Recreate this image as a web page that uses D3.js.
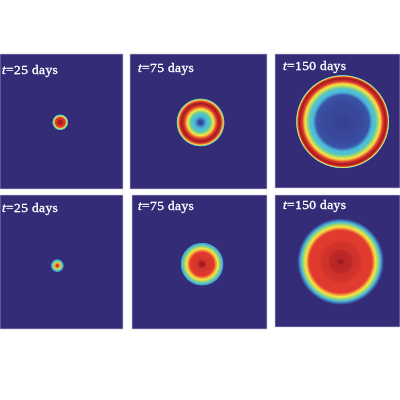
<!DOCTYPE html>
<html><head><meta charset="utf-8">
<script src="https://cdn.jsdelivr.net/npm/d3@7"></script>
<style>html,body{margin:0;padding:0;background:#fff}svg{display:block}
text{font-family:"Liberation Serif",serif;fill:#fff;stroke:#fff;stroke-width:.3px;font-size:13.5px;letter-spacing:.35px}</style>
</head><body><svg id="c" width="400" height="400"></svg>
<script>
// data: one profile per panel; radius as a fraction of the outer radius
const labels = ["25","75","150","25","75","150"];
const centerX = [0.49,0.515,0.541,0.466,0.519,0.525];
const centerY = [0.506,0.507,0.505,0.527,0.516,0.505];
const outerRadius = [0.060,0.180,0.350,0.050,0.162,0.328];
const radii1 = [0,0.25,0.4,0.62,0.72,0.8,0.88,0.95,1];
const values1 = [0.98,0.98,0.9,0.875,0.7,0.55,0.38,0.25,0];
const radii2 = [0,0.1,0.18,0.28,0.4,0.47,0.54,0.6,0.67,0.78,0.86,0.93,0.97,1];
const values2 = [0.06,0.1,0.2,0.26,0.38,0.52,0.63,0.76,0.88,1,0.88,0.66,0.33,0];
const radii3 = [0,0.4,0.56,0.6,0.64,0.7,0.75,0.8,0.83,0.86,0.92,0.955,0.975,0.988,1];
const values3 = [0.06,0.09,0.12,0.19,0.27,0.3,0.5,0.63,0.76,0.875,1,0.875,0.63,0.3,0];
const radii4 = [0,0.2,0.38,0.55,0.72,0.88,1];
const values4 = [0.9,0.88,0.72,0.52,0.33,0.22,0];
const radii5 = [0,0.12,0.2,0.55,0.64,0.72,0.8,0.9,0.97,1];
const values5 = [1,0.98,0.9,0.875,0.75,0.63,0.5,0.3,0.2,0];
const radii6 = [0,0.05,0.08,0.25,0.3,0.45,0.5,0.72,0.77,0.81,0.86,0.91,0.96,1];
const values6 = [1,1,0.95,0.94,0.91,0.9,0.875,0.875,0.75,0.63,0.5,0.28,0.15,0];
const allRadii = [radii1,radii2,radii3,radii4,radii5,radii6];
const allValues = [values1,values2,values3,values4,values5,values6];
const colorStops = ["#352c78","#3a55a8","#4bbde0","#58c9b0","#a5d66a","#f5e84a","#f49a35","#e03a2e","#9e1a20"];

// layout
const frames = [[0,54,123,135],[130,54,137,135],[275,54,125,134],[0,195,123,134],[132,195,135,134],[275,195,125,132]];
const labelPos = [[2,74],[138,72],[283,70],[2,212],[138,210],[283,208.5]];

const color = d3.scaleLinear().domain(d3.range(colorStops.length).map(i=>i/(colorStops.length-1))).range(colorStops).clamp(true);
const svg = d3.select("#c");
const defs = svg.append("defs");
defs.append("filter").attr("id","soft").append("feGaussianBlur").attr("stdDeviation",0.35);

frames.forEach((f,i)=>{
  const x = d3.scaleLinear().domain([0,1]).range([f[0],f[0]+f[2]]);
  const y = d3.scaleLinear().domain([0,1]).range([f[1],f[1]+f[3]]);
  const r = d3.scaleLinear().domain([0,1]).range([0,f[3]]);
  const gid = "g"+i;
  const grad = defs.append("radialGradient").attr("id",gid);
  grad.selectAll("stop").data(allRadii[i]).join("stop")
    .attr("offset",d=>d).attr("stop-color",(d,j)=>color(allValues[i][j]));
  const g = svg.append("g");
  g.append("rect").attr("x",f[0]).attr("y",f[1]).attr("width",f[2]).attr("height",f[3])
    .attr("fill",color(0)).attr("stroke","#c9c7dd").attr("stroke-width",0.6);
  g.append("circle").attr("cx",x(centerX[i])).attr("cy",y(centerY[i])).attr("r",r(outerRadius[i]))
    .attr("fill",`url(#${gid})`).attr("filter","url(#soft)");
  const t = g.append("text").attr("x",labelPos[i][0]).attr("y",labelPos[i][1]).attr("filter","url(#soft)");
  t.append("tspan").attr("font-style","italic").text("t");
  t.append("tspan").text("="+labels[i]+" days");
});
</script></body></html>
